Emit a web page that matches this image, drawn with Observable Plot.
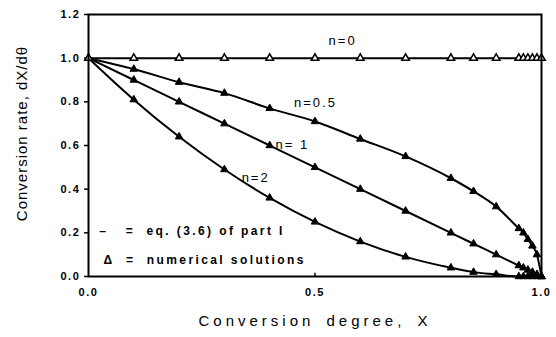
<!DOCTYPE html>
<html><head><meta charset="utf-8">
<script src="https://cdn.jsdelivr.net/npm/d3@7"></script>
<script src="https://cdn.jsdelivr.net/npm/@observablehq/plot@0.6"></script>
<style>
body{margin:0;background:#fff}#c{width:556px;height:337px}
g[aria-label="x-axis tick label"] text, g[aria-label="y-axis tick label"] text{letter-spacing:1.6px}
.curvelbl text{letter-spacing:2px}
.legendlbl text{letter-spacing:2.4px}
.xtitle text{letter-spacing:4px;word-spacing:4px}
.ytitle text{letter-spacing:1px}
</style>
</head><body><div id="c"></div>
<script>
const X = [0, 0.1, 0.2, 0.3, 0.4, 0.5, 0.6, 0.7, 0.8, 0.85, 0.9, 0.95, 0.96, 0.97, 0.98, 0.99, 1.0];
const n0 = [1, 1, 1, 1, 1, 1, 1, 1, 1, 1, 1, 1, 1, 1, 1, 1, 1];
const n05 = [1.0, 0.95, 0.89, 0.84, 0.77, 0.71, 0.63, 0.55, 0.45, 0.39, 0.32, 0.22, 0.20, 0.17, 0.14, 0.10, 0.0];
const n1 = [1.0, 0.9, 0.8, 0.7, 0.6, 0.5, 0.4, 0.3, 0.2, 0.15, 0.1, 0.05, 0.04, 0.03, 0.02, 0.01, 0.0];
const n2 = [1.0, 0.81, 0.64, 0.49, 0.36, 0.25, 0.16, 0.09, 0.04, 0.02, 0.01, 0.0, 0.0, 0.0, 0.0, 0.0, 0.0];
const seriesNames = ["n=0", "n=0.5", "n= 1", "n=2"];
const yTicks = [0, 0.2, 0.4, 0.6, 0.8, 1.0, 1.2];
const xTicks = [0, 0.5, 1.0];
const legendLines = ["–   =  eq. (3.6) of part I", "Δ  =  numerical solutions"];
const xTitle = "Conversion degree, X";
const yTitle = "Conversion rate, dX/dθ";

const series = [n0, n05, n1, n2];
const rows = [];
series.forEach((vals, i) => vals.forEach((v, j) => rows.push({x: X[j], y: v, s: seriesNames[i], open: i === 0})));

const ff = "Liberation Sans, Arial, sans-serif";
const curveFont = {fontFamily: ff, fontSize: 13, fill: "#000", className: "curvelbl"};
const legendFont = {fontFamily: ff, fontSize: 12, fontWeight: "bold", fill: "#000", textAnchor: "start", className: "legendlbl"};

const chart = Plot.plot({
  width: 556, height: 337,
  marginLeft: 88, marginRight: 15, marginTop: 14, marginBottom: 61,
  style: {fontFamily: ff, color: "#000", background: "#fff"},
  x: {domain: [0, 1]},
  y: {domain: [0, 1.2]},
  marks: [
    Plot.axisY({ticks: yTicks, tickFormat: d3.format(".1f"), tickSize: 4, tickPadding: 4, label: null, fontSize: 11, fontWeight: "bold", strokeWidth: 1.5}),
    Plot.axisX({ticks: xTicks, tickFormat: d3.format(".1f"), tickSize: 0, tickPadding: 12, label: null, fontSize: 11, fontWeight: "bold"}),
    Plot.ruleX([0.5], {y1: 0, y2: 0.015, stroke: "#000", strokeWidth: 1.5}),
    Plot.line(rows, {x: "x", y: "y", z: "s", curve: "monotone-x", stroke: "#000", strokeWidth: 2}),
    Plot.dot(rows.filter(d => !d.open), {x: "x", y: "y", symbol: "triangle", r: 2.8, fill: "#000", stroke: "#000", strokeWidth: 1}),
    Plot.dot(rows.filter(d => d.open), {x: "x", y: "y", symbol: "triangle", r: 2.8, fill: "#fff", stroke: "#000", strokeWidth: 1.5}),
    Plot.frame({stroke: "#000", strokeWidth: 2}),
    Plot.text([seriesNames[0]], {x: 0.561, y: 1.078, text: d => d, ...curveFont}),
    Plot.text([seriesNames[1]], {x: 0.501, y: 0.794, text: d => d, ...curveFont}),
    Plot.text([seriesNames[2]], {x: 0.450, y: 0.601, text: d => d, ...curveFont}),
    Plot.text([seriesNames[3]], {x: 0.369, y: 0.454, text: d => d, ...curveFont}),
    Plot.text([legendLines[0]], {x: 0.024, y: 0.206, text: d => d, ...legendFont}),
    Plot.text([legendLines[1]], {x: 0.033, y: 0.073, text: d => d, ...legendFont}),
    Plot.text([xTitle], {frameAnchor: "bottom", dy: 49, text: d => d, fontSize: 15, fill: "#000", className: "xtitle"}),
    Plot.text([yTitle], {frameAnchor: "left", dx: -66, dy: -12, rotate: -90, textAnchor: "middle", text: d => d, fontSize: 15, fill: "#000", className: "ytitle"})
  ]
});
document.getElementById("c").appendChild(chart);
</script>
</body></html>
